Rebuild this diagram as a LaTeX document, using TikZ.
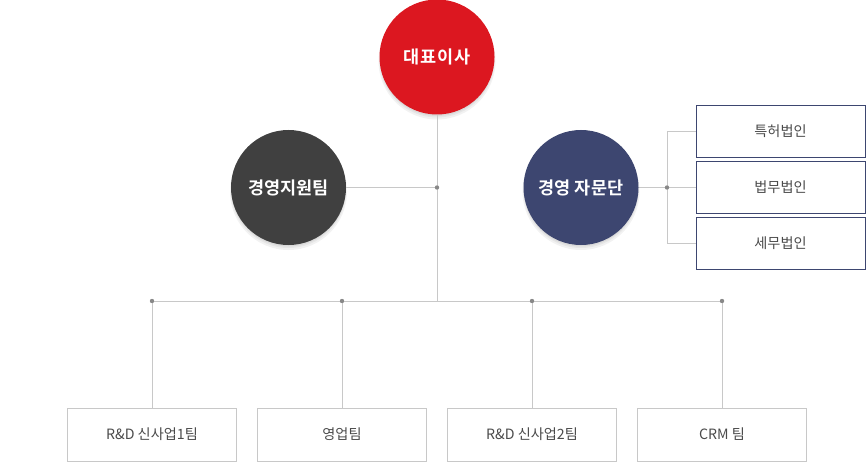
\documentclass[tikz,border=0pt]{standalone}
\usepackage{fontspec}
\newfontfamily\kr{Noto Sans CJK KR}
\newfontfamily\krb{Noto Sans CJK KR Bold}
\definecolor{ceored}{HTML}{DC1720}
\definecolor{darkgr}{HTML}{404040}
\definecolor{navy}{HTML}{3D4670}
\definecolor{linegr}{HTML}{C8C8C8}
\definecolor{dotgr}{HTML}{888888}
\definecolor{txtgr}{HTML}{4A4A4A}
\tikzset{
  circ/.style={circle, minimum size=115pt, inner sep=0pt, text=white, font=\krb\fontsize{17.5}{19}\selectfont},
  advbox/.style={draw=navy, line width=0.9pt, minimum width=169pt, minimum height=52pt, inner sep=0pt, text=txtgr, font=\kr\fontsize{14.2}{16}\selectfont},
  teambox/.style={draw=linegr, line width=0.9pt, minimum width=169pt, minimum height=53pt, inner sep=0pt, text=txtgr, font=\kr\fontsize{14.2}{16}\selectfont},
  conn/.style={draw=linegr, line width=0.8pt},
  junc/.style={fill=dotgr},
  shade/.style={fill=black, opacity=0.05}
}
\begin{document}
\begin{tikzpicture}[x=1pt,y=-1pt]
\useasboundingbox (0,0) rectangle (866,462);
% soft shadows
\foreach \cx/\cy in {437/57, 288.5/187.5, 581/187.5}{
  \fill[shade] (\cx,\cy+4) circle (58.5pt);
  \fill[shade] (\cx,\cy+3) circle (57.5pt);
  \fill[shade] (\cx,\cy+2) circle (57pt);
}
% coordinates
\coordinate (jc) at (437,187.5);
\coordinate (jb) at (437,301);
\coordinate (jr) at (667,187.5);
\coordinate (d1) at (152,301);
\coordinate (d2) at (342,301);
\coordinate (d3) at (532,301);
\coordinate (d4) at (722,301);
% nodes
\node[circ, fill=ceored, font=\krb\addfontfeature{LetterSpace=6}\fontsize{17.5}{19}\selectfont] (ceo) at (437,57) {대표이사};
\node[circ, fill=darkgr] (sup) at (288.5,187.5) {경영지원팀};
\node[circ, fill=navy] (adv) at (581,187.5) {경영 자문단};
\node[advbox] (a1) at (780.5,131.5) {특허법인};
\node[advbox] (a2) at (780.5,187.5) {법무법인};
\node[advbox] (a3) at (780.5,243.5) {세무법인};
\node[teambox] (t1) at (152,434.5) {R\&D 신사업1팀};
\node[teambox] (t2) at (342,434.5) {영업팀};
\node[teambox] (t3) at (532,434.5) {R\&D 신사업2팀};
\node[teambox] (t4) at (722,434.5) {CRM 팀};
% connectors
\draw[conn] (ceo.south) -- (jb);
\draw[conn] (sup.east) -- (jc);
\draw[conn] (d1) -- (d4);
\draw[conn] (d1) -- (t1.north);
\draw[conn] (d2) -- (t2.north);
\draw[conn] (d3) -- (t3.north);
\draw[conn] (d4) -- (t4.north);
\draw[conn] (adv.east) -- (a2.west);
\draw[conn] (a1.west) -| (jr) |- (a3.west);
% junction dots
\foreach \p in {jc,jr,d1,d2,d3,d4}{
  \fill[junc] (\p) circle (2.2pt);
}
\end{tikzpicture}
\end{document}
